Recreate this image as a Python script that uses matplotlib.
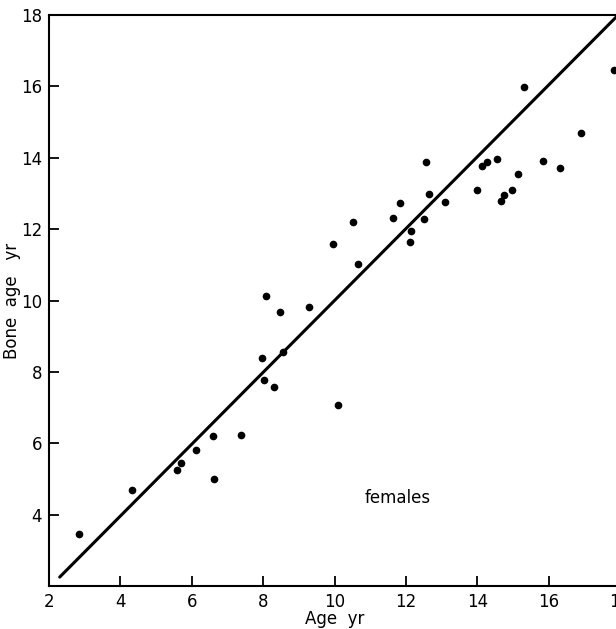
import numpy as np
import matplotlib
matplotlib.use('Agg')
import matplotlib.pyplot as plt

# chronological age vs bone age, females
age = [2.83, 4.32, 5.58, 5.69, 6.11, 6.59, 6.61, 7.38, 7.97, 8.02,
       8.08, 8.30, 8.47, 8.55, 9.28, 9.97, 10.10, 10.53, 10.66, 11.63,
       11.84, 12.12, 12.14, 12.50, 12.56, 12.64, 13.09, 13.99, 14.13, 14.27,
       14.55, 14.66, 14.75, 14.97, 15.14, 15.30, 15.84, 16.31, 16.90, 17.83]
bone_age = [3.47, 4.69, 5.24, 5.46, 5.80, 6.20, 5.00, 6.23, 8.38, 7.76,
            10.14, 7.59, 9.69, 8.55, 9.83, 11.57, 7.06, 12.20, 11.03, 12.32,
            12.73, 11.65, 11.96, 12.27, 13.89, 12.99, 12.77, 13.10, 13.78, 13.89,
            13.97, 12.80, 12.96, 13.10, 13.55, 15.97, 13.92, 13.72, 14.70, 16.47]

# drawn reference line
line_x = [2.3, 17.9]
line_y = [2.25, 17.95]

ticks = [2, 4, 6, 8, 10, 12, 14, 16, 18]

fig = plt.figure(figsize=(6.16, 6.29), dpi=100)
ax = fig.add_axes([49 / 616, 43 / 629, 571 / 616, 571 / 629])

ax.plot(line_x, line_y, color='black', lw=2.2, solid_capstyle='round')
ax.plot(age, bone_age, 'o', color='black', ms=4.5)

ax.set_xlim(2, 18)
ax.set_ylim(2, 18)
ax.set_xticks(ticks)
ax.set_yticks(ticks[1:])
ax.tick_params(direction='in', length=7, width=1.3, labelsize=12, pad=5,
               top=False, right=False)
ax.set_xlabel('Age  yr', fontsize=12, labelpad=-1)
ax.set_ylabel('Bone  age   yr', fontsize=12, labelpad=0)
ax.text(11.78, 4.46, 'females', fontsize=12, ha='center', va='center')

for s in ax.spines.values():
    s.set_linewidth(1.5)

fig.savefig('out.png', dpi=100)
